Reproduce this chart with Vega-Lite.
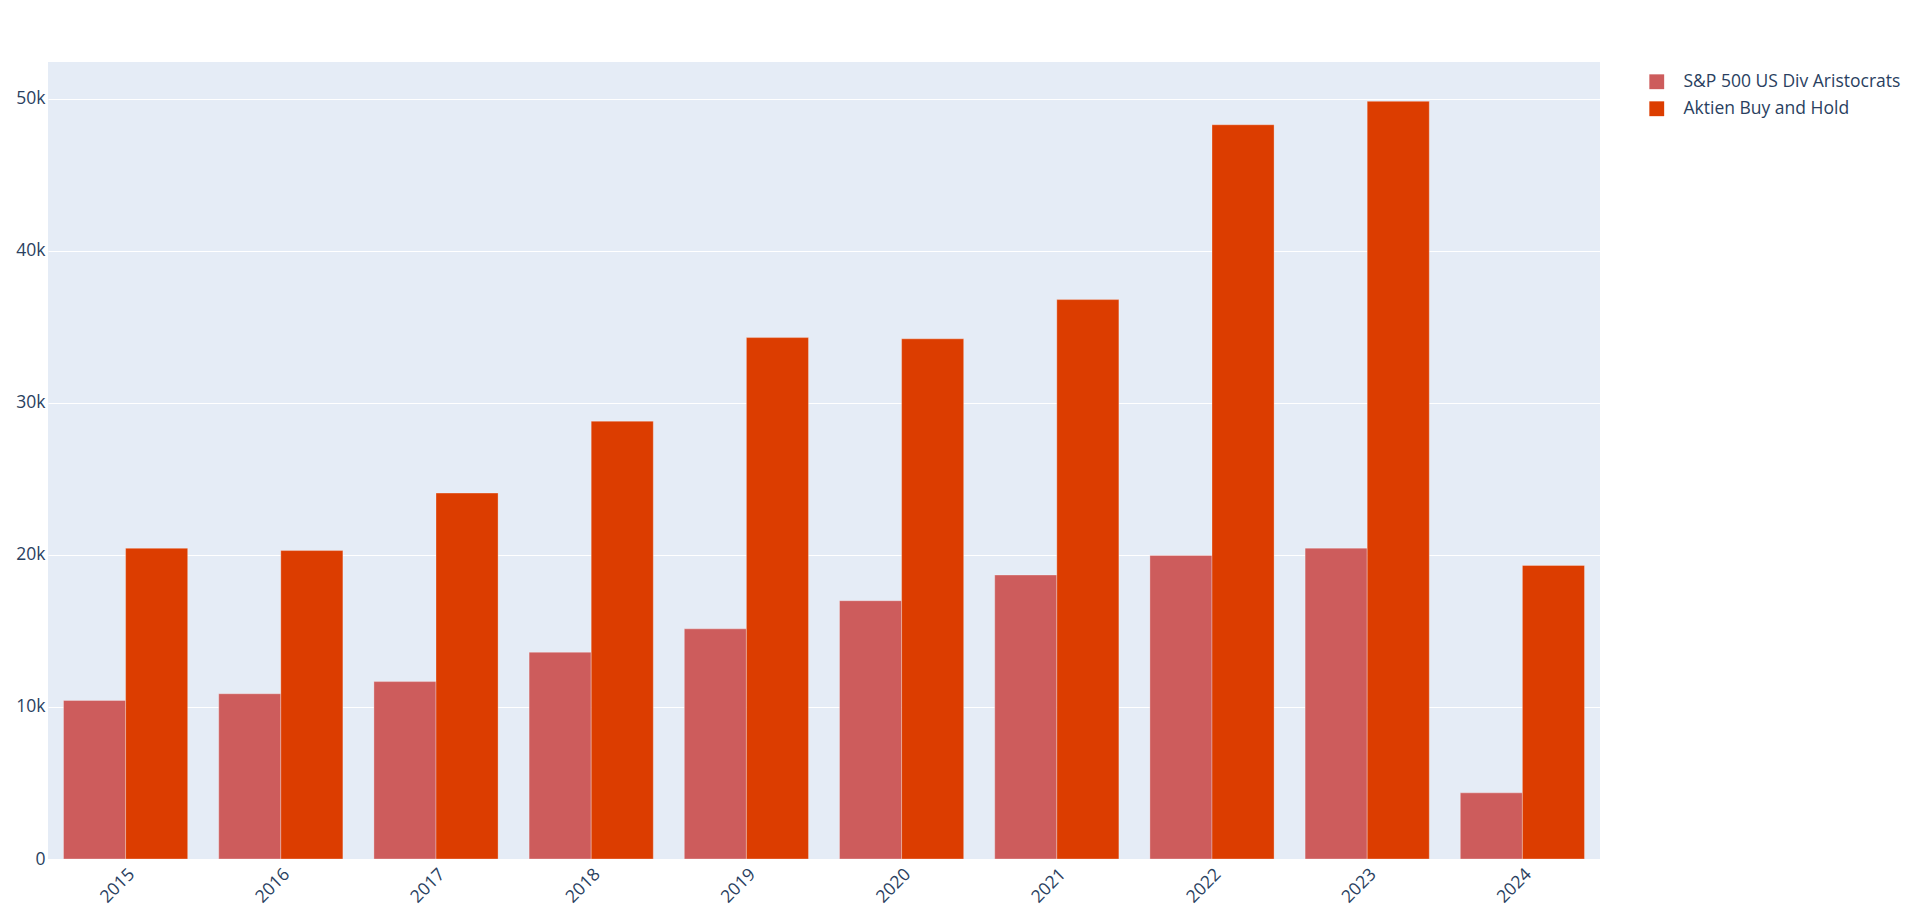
{
  "$schema": "https://vega.github.io/schema/vega-lite/v6.json",
  "width": 1552,
  "height": 797,
  "autosize": "none",
  "padding": {"left": 48, "top": 62, "right": 320, "bottom": 58},
  "background": "white",
  "config": {
    "view": {"fill": "#E5ECF6", "stroke": null},
    "font": "Open Sans",
    "axis": {"labelFont": "Open Sans", "labelColor": "#2a3f5f", "labelFontSize": 17.5, "titleColor": "#2a3f5f"},
    "legend": {"labelFont": "Open Sans", "labelColor": "#2a3f5f", "labelFontSize": 17.5, "labelLimit": 0}
  },
  "data": {
    "values": [
      {"year": "2015", "series": "S&P 500 US Div Aristocrats", "value": 10430},
      {"year": "2015", "series": "Aktien Buy and Hold", "value": 20440},
      {"year": "2016", "series": "S&P 500 US Div Aristocrats", "value": 10870},
      {"year": "2016", "series": "Aktien Buy and Hold", "value": 20290},
      {"year": "2017", "series": "S&P 500 US Div Aristocrats", "value": 11670},
      {"year": "2017", "series": "Aktien Buy and Hold", "value": 24070},
      {"year": "2018", "series": "S&P 500 US Div Aristocrats", "value": 13600},
      {"year": "2018", "series": "Aktien Buy and Hold", "value": 28800},
      {"year": "2019", "series": "S&P 500 US Div Aristocrats", "value": 15140},
      {"year": "2019", "series": "Aktien Buy and Hold", "value": 34300},
      {"year": "2020", "series": "S&P 500 US Div Aristocrats", "value": 16990},
      {"year": "2020", "series": "Aktien Buy and Hold", "value": 34220},
      {"year": "2021", "series": "S&P 500 US Div Aristocrats", "value": 18680},
      {"year": "2021", "series": "Aktien Buy and Hold", "value": 36800},
      {"year": "2022", "series": "S&P 500 US Div Aristocrats", "value": 19970},
      {"year": "2022", "series": "Aktien Buy and Hold", "value": 48300},
      {"year": "2023", "series": "S&P 500 US Div Aristocrats", "value": 20450},
      {"year": "2023", "series": "Aktien Buy and Hold", "value": 49840},
      {"year": "2024", "series": "S&P 500 US Div Aristocrats", "value": 4350},
      {"year": "2024", "series": "Aktien Buy and Hold", "value": 19310}
    ]
  },
  "mark": {"type": "bar", "stroke": "#ffffff", "strokeWidth": 0.5, "strokeOpacity": 0.6},
  "encoding": {
    "x": {
      "field": "year", "type": "nominal", "title": null,
      "scale": {"paddingInner": 0.2, "paddingOuter": 0.1},
      "axis": {"labelAngle": -45, "labelAlign": "right", "labelBaseline": "top", "ticks": false, "domain": false, "grid": false, "labelPadding": 6}
    },
    "xOffset": {"field": "series", "type": "nominal", "sort": ["S&P 500 US Div Aristocrats", "Aktien Buy and Hold"], "scale": {"paddingInner": 0, "paddingOuter": 0}},
    "y": {
      "field": "value", "type": "quantitative", "title": null,
      "scale": {"domain": [0, 52430], "nice": false, "zero": true},
      "axis": {"values": [0, 10000, 20000, 30000, 40000, 50000], "labelExpr": "datum.value == 0 ? '0' : format(datum.value, '~s')", "ticks": false, "domain": false, "gridColor": "#ffffff", "gridWidth": 1, "labelPadding": 3}
    },
    "color": {
      "field": "series", "type": "nominal",
      "scale": {"domain": ["S&P 500 US Div Aristocrats", "Aktien Buy and Hold"], "range": ["#CD5C5C", "#DC3D00"]},
      "legend": {"title": null, "orient": "none", "legendX": 1600, "legendY": 11, "symbolType": "square", "symbolSize": 220, "symbolStrokeWidth": 0, "rowPadding": 8, "labelOffset": 18, "labelLimit": 0}
    }
  }
}
